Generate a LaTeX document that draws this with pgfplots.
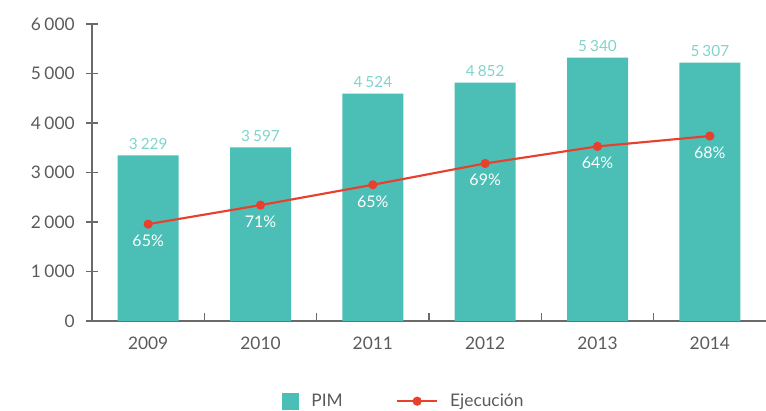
\documentclass[border=0pt]{standalone}
\usepackage{pgfplots}
\pgfplotsset{compat=1.18}
\usepackage{fontspec}
\setmainfont{Lato}
\definecolor{barc}{HTML}{4BBFB5}
\definecolor{labc}{HTML}{80D4CB}
\definecolor{linec}{HTML}{E8402F}
\definecolor{axc}{HTML}{6A6A6A}
\definecolor{txt}{HTML}{5A5A5A}
\pgfplotsset{
  mylinelegend/.style={legend image code/.code={\draw[mark repeat=2,mark phase=2,##1] plot coordinates {(0pt,0pt) (15pt,0pt) (30pt,0pt)};}},
  mybarlegend/.style={legend image code/.code={\fill[barc] (0pt,-6.5pt) rectangle (13pt,6.5pt);}},
}
\begin{document}
\begin{tikzpicture}
\useasboundingbox (0,0) rectangle (574.5pt,307.5pt);
\begin{axis}[
  at={(69pt,66.75pt)}, anchor=south west, scale only axis,
  width=505.5pt, height=222.75pt,
  xmin=-0.5, xmax=5.5, ymin=0, ymax=6000,
  axis x line=bottom, axis y line=left,
  axis line style={axc, line width=1.1pt, -},
  xtick={0,1,2,3,4,5},
  xticklabels={2009,2010,2011,2012,2013,2014},
  major x tick style={draw=none},
  extra x ticks={0.5,1.5,2.5,3.5,4.5},
  extra x tick labels={},
  extra x tick style={tick align=inside, major tick length=6pt, major x tick style={draw=axc, line width=1pt}},
  ytick={0,1000,2000,3000,4000,5000,6000},
  scaled y ticks=false,
  y tick style={draw=axc, line width=1pt},
  tick align=center, major tick length=9pt,
  /pgf/number format/.cd, assume math mode=true, 1000 sep={\hspace{0.2em}}, /pgfplots/.cd,
  yticklabel style={font=\fontsize{13}{15}\selectfont, text=txt, xshift=-5pt},
  xticklabel style={font=\fontsize{13}{15}\selectfont, text=txt, yshift=-4pt},
  legend style={at={(0.463,-0.27)}, anchor=center, draw=none, fill=none,
    legend columns=2, font=\fontsize{13}{15}\selectfont, text=txt,
    /tikz/every even column/.append style={column sep=38pt}},
]
\addplot[ybar, bar width=45.75pt, fill=barc, draw=none,
  point meta=explicit symbolic, nodes near coords,
  every node near coord/.append style={font=\fontsize{11.5}{13}\selectfont, text=labc, anchor=south, yshift=1pt},
  mybarlegend]
  coordinates {(0,3345) [3\hspace{0.2em}229] (1,3507) [3\hspace{0.2em}597] (2,4593) [4\hspace{0.2em}524] (3,4816) [4\hspace{0.2em}852] (4,5322) [5\hspace{0.2em}340] (5,5221) [5\hspace{0.2em}307]};
\addlegendentry{\hspace{7pt}PIM}
\addplot[linec, line width=1.6pt, mark=*, mark size=2.6pt, mark options={fill=linec, draw=linec},
  point meta=explicit symbolic, nodes near coords,
  every node near coord/.append style={font=\fontsize{12}{14}\selectfont, text=white, anchor=north, yshift=-4pt},
  mylinelegend]
  coordinates {(0,1957) [65\%] (1,2341) [71\%] (2,2752) [65\%] (3,3183) [69\%] (4,3527) [64\%] (5,3737) [68\%]};
\addlegendentry{\hspace{7pt}Ejecución}
\end{axis}
\end{tikzpicture}
\end{document}
